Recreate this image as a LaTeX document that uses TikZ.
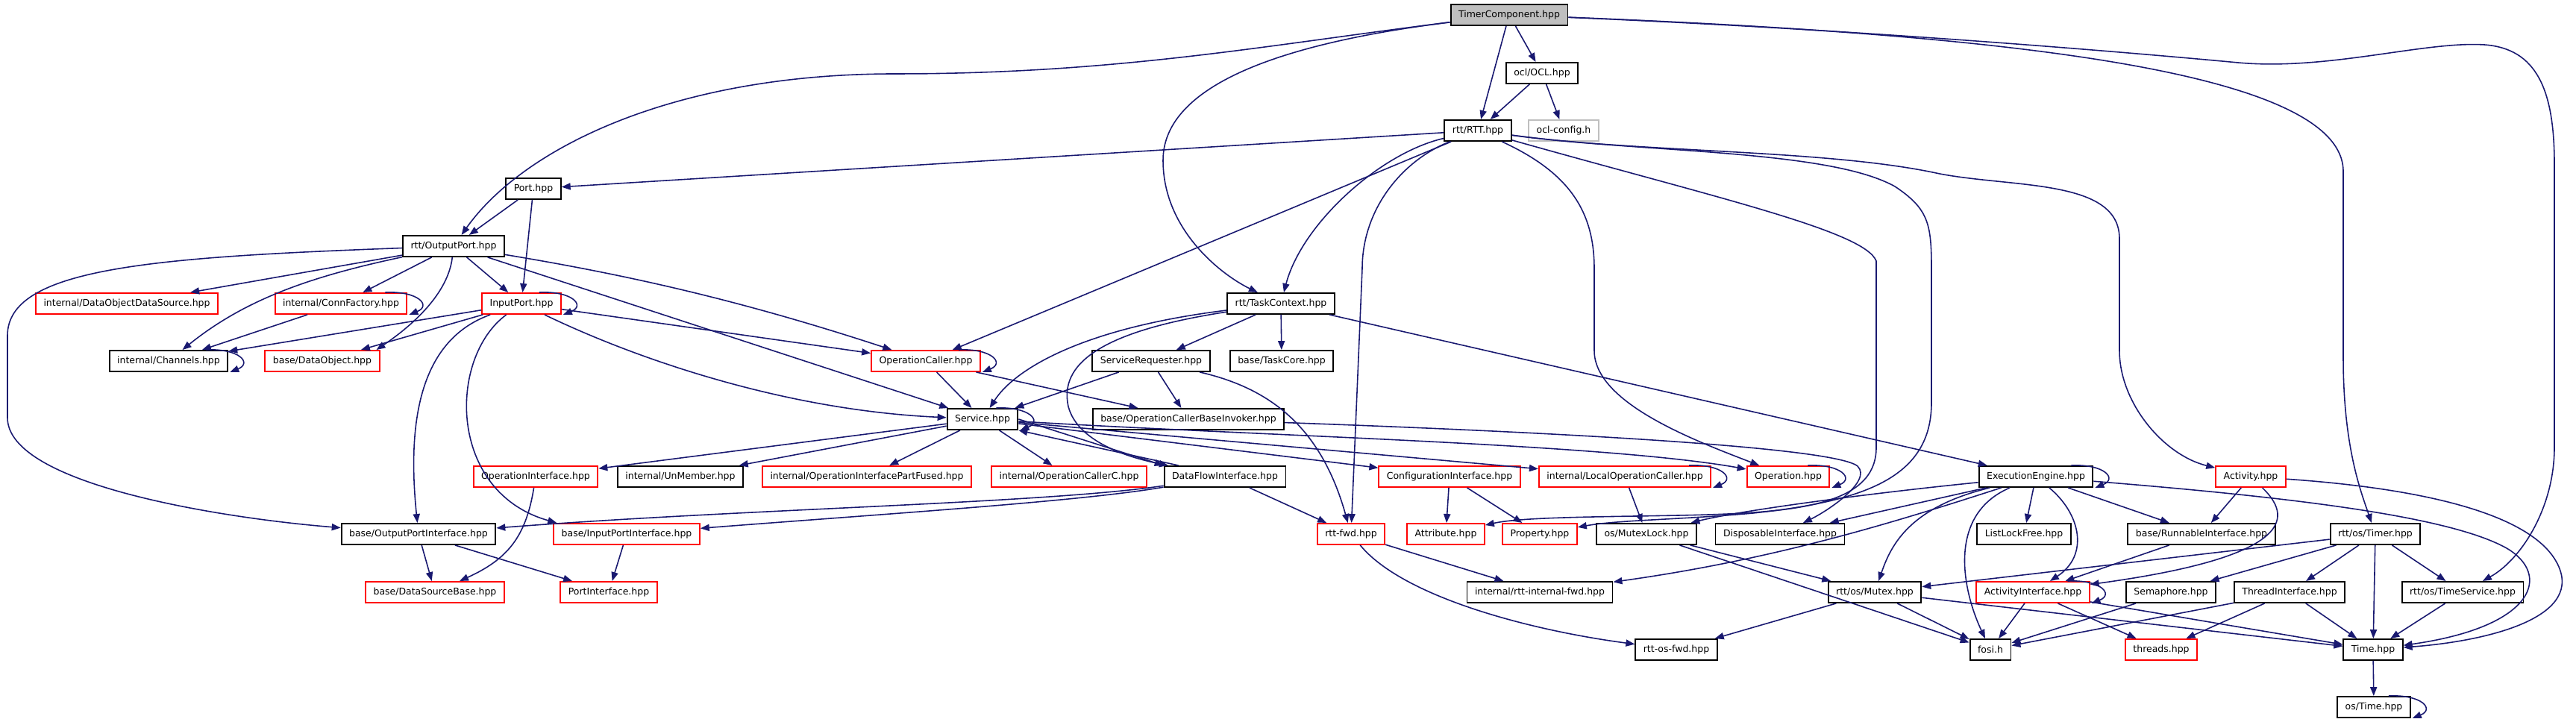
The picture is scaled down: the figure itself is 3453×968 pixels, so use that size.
\documentclass[tikz,border=0pt]{standalone}
\usepackage{fontspec}
\setmainfont{DejaVu Sans}
\usetikzlibrary{arrows.meta}
\definecolor{edgeblue}{HTML}{191970}
\definecolor{boxgray}{HTML}{BFBFBF}

\begin{document}
\begin{tikzpicture}[x=0.01cm,y=-0.01cm,
    file/.style={draw=black,line width=0.55pt,fill=white,inner xsep=0.105cm,inner ysep=0pt,minimum height=0.28cm,font=\fontsize{3.55}{4}\selectfont},
    redfile/.style={file,draw=red},
    dep/.style={draw=edgeblue,line width=0.45pt,-{Triangle[length=3.4pt,width=2.6pt]}}]
\useasboundingbox (0,0) rectangle (3453,968);

\node[file,fill=boxgray] (timer) at (2023,20) {TimerComponent.hpp};
\node[file] (ocl) at (2067,98) {ocl/OCL.hpp};
\node[file] (rtt) at (1981,175) {rtt/RTT.hpp};
\node[file,draw=boxgray] (oclcfg) at (2096,175) {ocl-config.h};
\node[file] (port) at (715,253) {Port.hpp};
\node[file] (outport) at (608,330) {rtt/OutputPort.hpp};
\node[redfile] (dods) at (170,407) {internal/DataObjectDataSource.hpp};
\node[redfile] (connf) at (457,407) {internal/ConnFactory.hpp};
\node[redfile] (inport) at (699,407) {InputPort.hpp};
\node[file] (taskctx) at (1717,407) {rtt/TaskContext.hpp};
\node[file] (chan) at (226,484) {internal/Channels.hpp};
\node[redfile] (dobj) at (432,484) {base/DataObject.hpp};
\node[redfile] (opcaller) at (1241,484) {OperationCaller.hpp};
\node[file] (servreq) at (1543,484) {ServiceRequester.hpp};
\node[file] (taskcore) at (1718,484) {base/TaskCore.hpp};
\node[file] (service) at (1317,562) {Service.hpp};
\node[file] (invoker) at (1593,562) {base/OperationCallerBaseInvoker.hpp};
\node[redfile] (opiface) at (718,639) {OperationInterface.hpp};
\node[file] (unmember) at (912,639) {internal/UnMember.hpp};
\node[redfile] (partfused) at (1162,639) {internal/OperationInterfacePartFused.hpp};
\node[redfile] (opcallerc) at (1433,639) {internal/OperationCallerC.hpp};
\node[file] (dataflow) at (1642,639) {DataFlowInterface.hpp};
\node[redfile] (config) at (1943,639) {ConfigurationInterface.hpp};
\node[redfile] (localop) at (2178,639) {internal/LocalOperationCaller.hpp};
\node[redfile] (operation) at (2397,639) {Operation.hpp};
\node[file] (engine) at (2729,639) {ExecutionEngine.hpp};
\node[redfile] (activity) at (3017,639) {Activity.hpp};
\node[file] (outiface) at (561,716) {base/OutputPortInterface.hpp};
\node[redfile] (iniface) at (840,716) {base/InputPortInterface.hpp};
\node[redfile] (rttfwd) at (1811,716) {rtt-fwd.hpp};
\node[redfile] (attribute) at (1938,716) {Attribute.hpp};
\node[redfile] (property) at (2064,716) {Property.hpp};
\node[file] (mutexlock) at (2207,716) {os/MutexLock.hpp};
\node[file] (disposable) at (2386,716) {DisposableInterface.hpp};
\node[file] (listlf) at (2713,716) {ListLockFree.hpp};
\node[file] (runnable) at (2951,716) {base/RunnableInterface.hpp};
\node[file] (ostimer) at (3184,716) {rtt/os/Timer.hpp};
\node[redfile] (dsbase) at (583,794) {base/DataSourceBase.hpp};
\node[redfile] (portiface) at (816,794) {PortInterface.hpp};
\node[file] (internalfwd) at (2064,794) {internal/rtt-internal-fwd.hpp};
\node[file] (mutex) at (2513,794) {rtt/os/Mutex.hpp};
\node[redfile] (actiface) at (2725,794) {ActivityInterface.hpp};
\node[file] (semaphore) at (2910,794) {Semaphore.hpp};
\node[file] (threadiface) at (3069,794) {ThreadInterface.hpp};
\node[file] (timeservice) at (3301,794) {rtt/os/TimeService.hpp};
\node[file] (osfwd) at (2247,871) {rtt-os-fwd.hpp};
\node[file] (fosi) at (2668,871) {fosi.h};
\node[redfile] (threads) at (2897,871) {threads.hpp};
\node[file] (time) at (3181,871) {Time.hpp};
\node[file] (ostime) at (3182,948) {os/Time.hpp};

% top
\draw[dep] (timer) -- (ocl);
\draw[dep] (timer) -- (rtt);
\draw[dep] (ocl) -- (rtt);
\draw[dep] (ocl) -- (oclcfg);
\draw[dep] (timer) .. controls (1700,60) and (1500,99) .. (1200,99) .. controls (900,99) and (700,200) .. (outport);
\draw[dep] (timer) .. controls (1700,60) and (1559,120) .. (1559,215) .. controls (1559,310) and (1640,370) .. (taskctx);
\draw[dep] (timer) .. controls (2650,45) and (3141,90) .. (3141,230) -- (3141,480) .. controls (3141,600) and (3165,660) .. (ostimer);
\draw[dep] (timer) .. controls (2500,40) and (2850,70) .. (3000,84) .. controls (3120,95) and (3250,55) .. (3330,60) .. controls (3400,65) and (3424,120) .. (3424,220) -- (3424,600) .. controls (3424,680) and (3380,750) .. (timeservice);

% rtt
\draw[dep] (rtt) -- (port);
\draw[dep] (rtt) -- (opcaller);
\draw[dep] (rtt) .. controls (1850,205) and (1745,300) .. (taskctx);
\draw[dep] (rtt) .. controls (1880,215) and (1826,280) .. (1826,360) -- (rttfwd);
\draw[dep] (rtt) .. controls (2100,230) and (2137,280) .. (2137,360) -- (2137,470) .. controls (2137,540) and (2270,590) .. (operation);
\draw[dep] (rtt) .. controls (2300,265) and (2500,310) .. (2515,350) -- (2515,600) .. controls (2515,680) and (2400,688) .. (2250,691) .. controls (2150,693) and (2040,693) .. (attribute);
\draw[dep] (rtt) .. controls (2200,205) and (2450,200) .. (2540,250) .. controls (2585,280) and (2589,300) .. (2589,360) -- (2589,540) .. controls (2589,640) and (2500,672) .. (2350,688) .. controls (2250,697) and (2170,697) .. (property);
\draw[dep] (rtt) .. controls (2200,205) and (2450,200) .. (2600,233) .. controls (2700,252) and (2841,240) .. (2841,320) -- (2841,470) .. controls (2841,540) and (2900,610) .. (activity);

% left part
\draw[dep] (port) -- (outport);
\draw[dep] (port) -- (inport);
\draw[dep] (outport) -- (dods);
\draw[dep] (outport) .. controls (420,370) and (330,400) .. (chan);
\draw[dep] (outport) -- (connf);
\draw[dep] (outport) .. controls (600,400) and (540,445) .. ([xshift=-0.05cm]dobj.north east);
\draw[dep] (outport) -- (inport);
\draw[dep] (outport) .. controls (850,370) and (1000,405) .. (opcaller);
\draw[dep] (outport) -- (service);
\draw[dep] (outport) .. controls (200,345) and (10,360) .. (10,450) -- (10,560) .. controls (10,650) and (300,695) .. (outiface);
\draw[dep] ([xshift=-0.3cm]connf.north east) .. controls +(45,-2) and +(30,-12) .. ([xshift=0.02cm]connf.south east);
\draw[dep] (connf) -- (chan);
\draw[dep] ([xshift=-0.3cm]chan.north east) .. controls +(45,-2) and +(30,-12) .. ([xshift=0.02cm]chan.south east);
\draw[dep] ([xshift=-0.3cm]inport.north east) .. controls +(45,-2) and +(30,-12) .. ([xshift=0.02cm]inport.south east);
\draw[dep] (inport) -- (chan);
\draw[dep] (inport) -- (dobj);
\draw[dep] (inport) -- (opcaller);
\draw[dep] (inport) .. controls (850,480) and (1050,550) .. (service);
\draw[dep] (inport) .. controls (565,455) and (545,560) .. (outiface);
\draw[dep] (inport) .. controls (600,480) and (600,660) .. ([xshift=0.05cm]iniface.north west);
\draw[dep] (opiface) .. controls (705,720) and (680,750) .. (dsbase);
\draw[dep] (outiface) -- (dsbase);
\draw[dep] (outiface) -- (portiface);
\draw[dep] (iniface) -- (portiface);

% task context
\draw[dep] (taskctx) .. controls (1450,440) and (1360,495) .. (service);
\draw[dep] (taskctx) .. controls (1470,445) and (1420,490) .. (1432,545) .. controls (1445,595) and (1520,615) .. (dataflow);
\draw[dep] (taskctx) -- (servreq);
\draw[dep] (taskctx) -- (taskcore);
\draw[dep] (taskctx) -- (engine);
\draw[dep] (servreq) -- (service);
\draw[dep] (servreq) -- (invoker);
\draw[dep] (servreq) .. controls (1700,520) and (1770,570) .. (rttfwd);
\draw[dep] ([xshift=-0.3cm]opcaller.north east) .. controls +(45,-2) and +(30,-12) .. ([xshift=0.02cm]opcaller.south east);
\draw[dep] (opcaller) -- (service);
\draw[dep] (opcaller) -- (invoker);

% service
\draw[dep] ([xshift=-0.3cm]service.north east) .. controls +(45,-2) and +(30,-12) .. ([xshift=0.02cm]service.south east);
\draw[dep] (service) -- (opiface);
\draw[dep] (service) -- (unmember);
\draw[dep] (service) -- (partfused);
\draw[dep] (service) -- (opcallerc);
\draw[dep] (service.east) -- (dataflow.north west);
\draw[dep] (service) -- (config);
\draw[dep] (service) -- (localop);
\draw[dep] (service) .. controls (1700,585) and (2150,595) .. (operation);
\draw[dep] (invoker) .. controls (2100,580) and (2460,600) .. (2490,625) .. controls (2510,645) and (2450,685) .. (disposable);
\draw[dep] ([xshift=0.2cm]dataflow.north west) -- (service.south east);
\draw[dep] (dataflow) .. controls (1400,675) and (1000,682) .. (outiface);
\draw[dep] (dataflow) .. controls (1450,672) and (1200,688) .. (iniface);
\draw[dep] (dataflow) -- (rttfwd);
\draw[dep] (config) -- (attribute);
\draw[dep] (config) -- (property);
\draw[dep] ([xshift=-0.3cm]localop.north east) .. controls +(45,-2) and +(30,-12) .. ([xshift=0.02cm]localop.south east);
\draw[dep] (localop) -- (mutexlock);
\draw[dep] ([xshift=-0.3cm]operation.north east) .. controls +(45,-2) and +(30,-12) .. ([xshift=0.02cm]operation.south east);
\draw[dep] (rttfwd) -- (internalfwd);
\draw[dep] (rttfwd) .. controls (1880,800) and (2050,845) .. (osfwd);
\draw[dep] (mutexlock) -- (mutex);
\draw[dep] (mutexlock) -- (fosi);

% execution engine
\draw[dep] ([xshift=-0.3cm]engine.north east) .. controls +(45,-2) and +(30,-12) .. ([xshift=0.02cm]engine.south east);
\draw[dep] (engine) -- (disposable);
\draw[dep] (engine) .. controls (2500,662) and (2330,685) .. (mutexlock);
\draw[dep] (engine) .. controls (2540,700) and (2380,750) .. (internalfwd);
\draw[dep] (engine) .. controls (2560,680) and (2535,730) .. (mutex);
\draw[dep] (engine) .. controls (2610,690) and (2630,790) .. (fosi);
\draw[dep] (engine) -- (listlf);
\draw[dep] (engine) .. controls (2790,690) and (2800,745) .. (actiface);
\draw[dep] (engine) -- (runnable);
\draw[dep] (engine) .. controls (3050,665) and (3280,690) .. (3360,735) .. controls (3420,770) and (3400,840) .. (time);
\draw[dep] (activity) -- (runnable);
\draw[dep] (activity) .. controls (3070,690) and (3085,745) .. (actiface);
\draw[dep] (activity) .. controls (3250,655) and (3400,690) .. (3430,760) .. controls (3460,830) and (3330,860) .. (time);
\draw[dep] (runnable) -- (actiface);

% os
\draw[dep] (ostimer) -- (mutex);
\draw[dep] (ostimer) -- (semaphore);
\draw[dep] (ostimer) -- (threadiface);
\draw[dep] (ostimer) -- (time);
\draw[dep] (ostimer) -- (timeservice);
\draw[dep] (mutex) -- (osfwd);
\draw[dep] (mutex) -- (fosi);
\draw[dep] (mutex) -- (time);
\draw[dep] ([xshift=-0.3cm]actiface.north east) .. controls +(45,-2) and +(30,-12) .. ([xshift=0.02cm]actiface.south east);
\draw[dep] (actiface) -- (fosi);
\draw[dep] (actiface) -- (threads);
\draw[dep] (actiface) -- (time);
\draw[dep] (semaphore) -- (fosi);
\draw[dep] (threadiface) -- (fosi);
\draw[dep] (threadiface) -- (threads);
\draw[dep] (threadiface) -- (time);
\draw[dep] (timeservice) -- (time);
\draw[dep] (time) -- (ostime);
\draw[dep] ([xshift=-0.3cm]ostime.north east) .. controls +(45,-2) and +(30,-12) .. ([xshift=0.02cm]ostime.south east);
\end{tikzpicture}
\end{document}
